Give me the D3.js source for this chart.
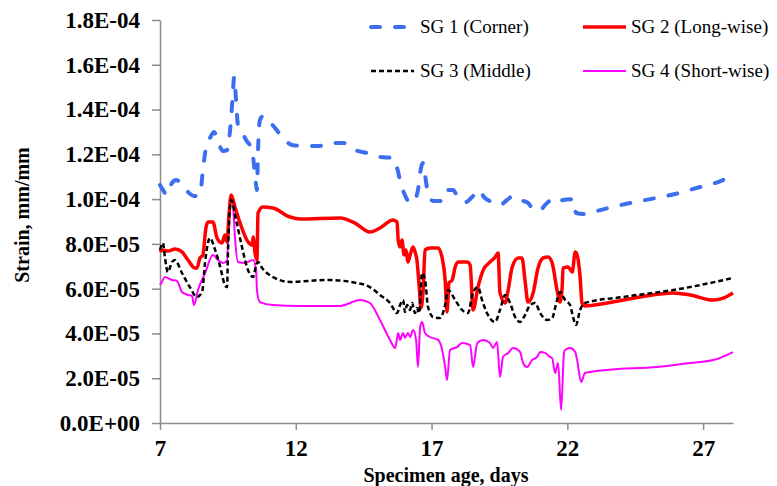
<html>
<head>
    <meta charset="utf-8">
    <script src="https://cdn.jsdelivr.net/npm/d3@7"></script>
    <style>
        body { margin: 0; background: #fff; }
        text { font-family: "Liberation Serif", "Times New Roman", serif; fill: #000; }
        .axis path, .axis line { stroke: #8c8c8c; stroke-width: 1.5px; }
        .axis text { font-size: 23px; font-weight: bold; }
        .title { font-size: 20px; font-weight: bold; }
        .legend text { font-size: 19px; }
    </style>
</head>
<body>
<script>

    // [specimen age (days), strain in units of 1E-05 mm/mm]
    var sg1 = [
        [7.00,10.63],[7.11,10.41],[7.26,10.18],[7.44,10.72],[7.59,10.85],[7.81,10.67],[8.03,10.32],
        [8.25,10.14],[8.47,10.18],[8.58,11.30],[8.69,12.28],[8.84,12.73],[8.99,13.00],[9.14,12.55],
        [9.32,12.15],[9.47,12.19],[9.54,12.64],[9.62,13.62],[9.69,14.87],[9.73,15.45],[9.80,14.43],
        [9.87,13.31],[9.98,13.09],[10.17,12.64],[10.39,12.19],[10.50,11.08],[10.57,10.41],[10.61,12.19],
        [10.68,13.53],[10.79,13.71],[11.05,13.44],[11.35,13.00],[11.60,12.64],[11.86,12.42],[12.34,12.37],
        [12.82,12.37],[13.34,12.51],[13.74,12.51],[14.18,12.19],[14.62,12.06],[15.10,11.88],[15.58,11.84],
        [15.73,11.39],[15.88,10.63],[16.02,10.18],[16.21,9.83],[16.39,9.96],[16.50,10.41],[16.61,11.39],
        [16.69,11.61],[16.76,11.08],[16.87,10.27],[17.06,9.92],[17.42,9.92],[17.61,10.41],[17.79,10.41],
        [17.98,10.05],[18.27,9.87],[18.49,10.09],[18.75,10.41],[18.93,10.09],[19.23,9.87],[19.52,9.74],
        [19.78,9.96],[20.00,10.14],[20.26,9.96],[20.55,9.83],[20.78,9.51],[21.00,9.51],[21.18,9.74],
        [21.44,9.96],[21.66,9.83],[21.84,9.96],[22.21,10.00],[22.32,9.38],[22.65,9.33],[23.21,9.51],
        [24.13,9.78],[25.05,10.00],[25.97,10.23],[26.89,10.54],[27.55,10.76],[28.10,11.08]
    ];

    var sg2 = [
        [7.00,7.64],[7.07,7.73],[7.29,7.68],[7.55,7.77],[7.81,7.64],[8.03,7.28],[8.29,6.92],[8.36,6.92],
        [8.47,7.37],[8.58,7.50],[8.69,8.71],[8.77,8.98],[8.95,8.98],[9.10,8.26],[9.28,8.04],[9.39,8.40],
        [9.47,8.08],[9.54,9.29],[9.62,10.18],[9.76,9.65],[9.95,8.93],[10.20,8.17],[10.39,7.95],[10.43,8.31],
        [10.50,7.59],[10.57,7.28],[10.61,9.38],[10.79,9.65],[11.16,9.60],[11.79,9.20],[12.16,9.11],
        [13.63,9.16],[14.18,8.93],[14.73,8.53],[15.10,8.71],[15.58,9.07],[15.73,8.98],[15.77,8.17],
        [15.84,7.86],[15.91,8.17],[15.99,7.50],[16.06,7.73],[16.13,7.19],[16.21,7.50],[16.32,7.86],
        [16.39,7.64],[16.46,7.28],[16.54,6.16],[16.61,5.14],[16.69,5.94],[16.76,7.73],[16.94,7.82],
        [17.24,7.82],[17.39,7.37],[17.50,6.39],[17.57,4.96],[17.64,6.25],[17.76,6.39],[17.87,6.97],
        [17.98,7.19],[18.31,7.19],[18.42,7.06],[18.53,5.05],[18.71,6.07],[18.90,6.83],[19.15,7.19],
        [19.34,7.41],[19.45,7.59],[19.52,5.81],[19.71,5.36],[19.82,5.94],[19.97,6.97],[20.19,7.37],
        [20.33,7.37],[20.44,6.39],[20.55,5.40],[20.74,5.81],[20.92,6.92],[21.11,7.37],[21.29,7.41],
        [21.44,7.15],[21.62,5.94],[21.73,5.40],[21.81,6.07],[21.84,6.92],[22.03,6.97],[22.18,6.74],
        [22.29,7.64],[22.36,7.50],[22.47,6.52],[22.54,5.36],[22.65,5.23],[23.46,5.36],[24.68,5.63],
        [25.90,5.81],[26.52,5.72],[27.37,5.49],[27.74,5.58],[28.10,5.81]
    ];

    var sg3 = [
        [7.00,7.73],[7.11,8.04],[7.18,7.41],[7.29,6.74],[7.44,7.19],[7.55,7.28],[7.81,6.70],[8.10,6.07],
        [8.36,5.63],[8.55,5.85],[8.66,7.19],[8.84,8.26],[9.03,7.73],[9.21,7.01],[9.39,6.16],[9.47,6.07],
        [9.50,7.50],[9.62,9.96],[9.80,9.07],[10.02,7.86],[10.20,6.97],[10.43,6.52],[10.54,7.06],
        [10.61,7.19],[10.76,6.92],[11.16,6.52],[11.79,6.30],[13.15,6.39],[14.26,6.25],[14.73,6.07],
        [15.10,5.72],[15.47,5.36],[15.73,4.91],[15.84,5.27],[15.95,5.49],[16.02,4.96],[16.10,5.27],
        [16.21,5.05],[16.28,5.36],[16.39,4.91],[16.46,5.14],[16.54,4.91],[16.65,6.70],[16.76,6.39],
        [16.87,5.18],[17.06,4.73],[17.31,4.69],[17.50,5.27],[17.61,5.94],[17.87,5.49],[18.12,5.05],
        [18.34,4.91],[18.53,5.85],[18.71,6.07],[18.86,5.49],[19.04,4.91],[19.34,4.51],[19.52,5.05],
        [19.71,5.72],[19.89,5.36],[20.08,4.73],[20.26,4.51],[20.44,4.82],[20.63,5.27],[20.81,5.36],
        [21.00,4.91],[21.25,4.60],[21.44,4.69],[21.62,5.49],[21.73,5.85],[21.92,5.49],[22.10,5.27],
        [22.21,4.73],[22.32,4.38],[22.47,5.05],[22.65,5.36],[24.05,5.63],[25.90,5.94],[26.89,6.16],
        [28.10,6.48]
    ];

    var sg4 = [
        [7.00,6.16],[7.07,6.30],[7.18,6.52],[7.44,6.39],[7.63,6.34],[7.81,5.85],[8.03,5.72],[8.18,5.67],
        [8.25,5.27],[8.40,5.94],[8.66,6.70],[8.95,7.50],[9.14,7.28],[9.32,7.15],[9.47,7.24],[9.54,9.38],
        [9.62,10.18],[9.69,9.74],[9.76,8.31],[9.87,7.19],[10.13,7.15],[10.43,7.28],[10.54,6.83],
        [10.57,5.94],[10.68,5.40],[11.16,5.27],[12.16,5.23],[13.63,5.23],[14.37,5.49],[14.73,5.36],
        [15.10,4.60],[15.47,3.71],[15.66,3.35],[15.77,4.02],[15.84,3.71],[15.95,4.02],[16.02,3.80],
        [16.13,4.02],[16.21,3.84],[16.32,4.15],[16.43,3.71],[16.50,2.50],[16.58,4.29],[16.65,4.51],
        [16.76,4.02],[16.94,3.84],[17.24,3.71],[17.39,3.26],[17.50,2.50],[17.57,1.92],[17.68,3.26],
        [17.94,3.39],[18.12,3.57],[18.42,3.48],[18.53,2.50],[18.68,3.57],[18.90,3.71],[19.15,3.57],
        [19.27,3.35],[19.41,3.62],[19.52,2.05],[19.63,2.95],[19.82,3.13],[20.00,3.35],[20.26,3.17],
        [20.37,2.68],[20.52,2.50],[20.70,2.81],[20.89,2.95],[21.00,3.17],[21.18,3.13],[21.36,2.95],
        [21.44,2.90],[21.55,2.23],[21.66,2.68],[21.77,0.58],[21.88,3.17],[21.92,3.26],[22.10,3.35],
        [22.29,3.17],[22.36,2.81],[22.51,1.83],[22.65,2.23],[23.46,2.37],[25.31,2.50],[26.52,2.68],
        [27.37,2.81],[28.10,3.17]
    ];

    var seriesNames = ["SG 1 (Corner)", "SG 2 (Long-wise)", "SG 3 (Middle)", "SG 4 (Short-wise)"];

    var xTicks = [7, 12, 17, 22, 27];
    var yTicks = [0, 2, 4, 6, 8, 10, 12, 14, 16, 18];
    var yTickLabels = ["0.0E+00", "2.0E-05", "4.0E-05", "6.0E-05", "8.0E-05",
        "1.0E-04", "1.2E-04", "1.4E-04", "1.6E-04", "1.8E-04"];

    var width = 777,
        height = 486;

    var x = d3.scaleLinear().domain([7, 28.1]).range([160, 733]);
    var y = d3.scaleLinear().domain([0, 18]).range([423, 20]);

    var svg = d3.select("body").append("svg")
        .attr("width", width)
        .attr("height", height);

    // axes
    svg.append("g")
        .attr("class", "axis")
        .attr("transform", "translate(0," + y(0) + ")")
        .call(d3.axisBottom(x).tickValues(xTicks).tickSize(7).tickSizeOuter(0).tickPadding(10));

    svg.append("g")
        .attr("class", "axis")
        .attr("transform", "translate(" + x(7) + ",0)")
        .call(d3.axisLeft(y).tickValues(yTicks).tickSize(8).tickSizeOuter(0).tickPadding(12)
            .tickFormat(function (d, i) { return yTickLabels[i]; }));

    svg.append("text")
        .attr("class", "title")
        .attr("x", 446)
        .attr("y", 482)
        .attr("text-anchor", "middle")
        .text("Specimen age, days");

    svg.append("text")
        .attr("class", "title")
        .attr("transform", "translate(29,215) rotate(-90)")
        .attr("text-anchor", "middle")
        .text("Strain, mm/mm");

    // series
    var styles = [
        {color: "#3c6ef0", width: 4, dash: "9,15", cap: "round"},
        {color: "#ff0000", width: 3.5, dash: null, cap: "butt"},
        {color: "#000000", width: 2.5, dash: "5,3", cap: "butt"},
        {color: "#ff00ff", width: 2, dash: null, cap: "butt"}
    ];
    var allSeries = [sg1, sg2, sg3, sg4];

    var line = d3.line()
        .x(function (d) { return x(d[0]); })
        .y(function (d) { return y(d[1]); })
        .curve(d3.curveMonotoneX);

    // draw order: SG1, SG4, SG3, SG2 on top like the picture
    [0, 3, 1, 2].forEach(function (i) {
        svg.append("path")
            .datum(allSeries[i])
            .attr("d", line)
            .attr("fill", "none")
            .attr("stroke", styles[i].color)
            .attr("stroke-width", styles[i].width)
            .attr("stroke-linecap", styles[i].cap)
            .attr("stroke-linejoin", "round")
            .attr("stroke-dasharray", styles[i].dash);
    });

    // legend
    var legendPos = [[371, 27], [583, 27], [371, 71], [583, 71]];
    var legend = svg.append("g").attr("class", "legend");
    seriesNames.forEach(function (name, i) {
        var p = legendPos[i];
        legend.append("line")
            .attr("x1", p[0]).attr("x2", p[0] + 43)
            .attr("y1", p[1]).attr("y2", p[1])
            .attr("stroke", styles[i].color)
            .attr("stroke-width", styles[i].width)
            .attr("stroke-linecap", styles[i].cap)
            .attr("stroke-dasharray", styles[i].dash);
        legend.append("text")
            .attr("x", p[0] + (i % 2 === 0 ? 49 : 48))
            .attr("y", p[1] + 6)
            .text(name);
    });

</script>
</body>
</html>
